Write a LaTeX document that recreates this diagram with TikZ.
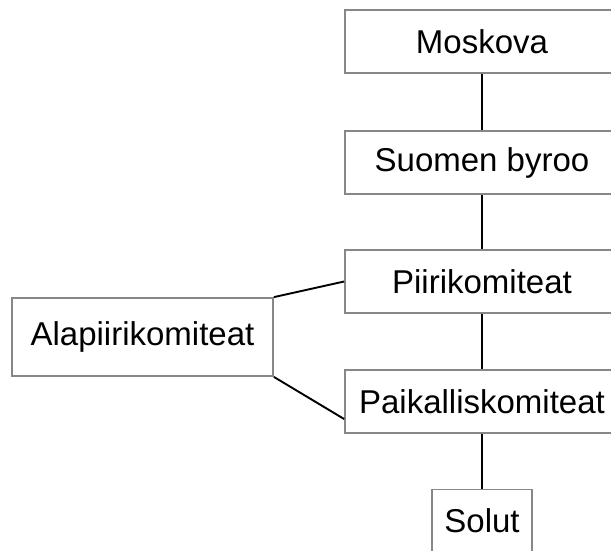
\documentclass[tikz,border=0pt]{standalone}
\usepackage{fontspec}
\setmainfont{Liberation Sans}
\begin{document}
\begin{tikzpicture}[x=1pt,y=1pt,
  box/.style={draw=black!47, line width=1.8pt, fill=white, inner sep=0pt,
    minimum height=63pt, font=\fontsize{33}{36}\selectfont},
  wide/.style={box, minimum width=274pt},
  conn/.style={draw=black, line width=1.9pt}]
\useasboundingbox (0,0) rectangle (611,-550);
\clip (0,0) rectangle (611,-550);
\node[wide] (mos) at (482,-41.5) {Moskova};
\node[wide] (suo) at (482,-162.5) {Suomen byroo};
\node[wide] (pii) at (482,-281.5) {Piirikomiteat};
\node[wide] (pai) at (482,-401.5) {Paikalliskomiteat};
\node[box, minimum width=100pt] (sol) at (482,-521) {Solut};
\node[box, minimum width=261pt, minimum height=78pt] (ala) at (142.5,-337) {Alapiirikomiteat};
\draw[conn] (mos.south) -- (suo.north);
\draw[conn] (suo.south) -- (pii.north);
\draw[conn] (pii.south) -- (pai.north);
\draw[conn] (pai.south) -- (sol.north);
\draw[conn] (ala.north east) -- (pii.west);
\draw[conn] (ala.south east) -- ([yshift=-17.5pt]pai.west);
\end{tikzpicture}
\end{document}
